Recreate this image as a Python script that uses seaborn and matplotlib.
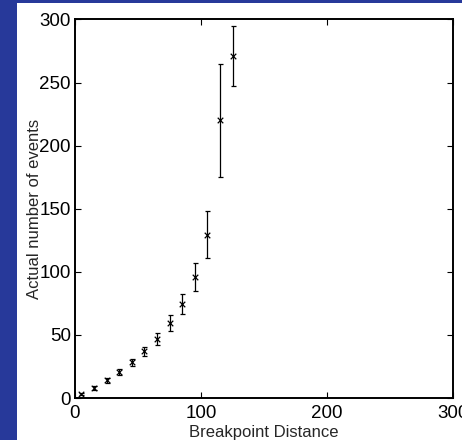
import matplotlib
matplotlib.use("Agg")
import matplotlib.pyplot as plt
import seaborn as sns
import pandas as pd
from matplotlib.patches import Rectangle

distance = [5, 15, 25, 35, 45, 55, 65, 75, 85, 95, 105, 115, 125]
events = [3, 8.2, 14.2, 20.7, 28.3, 37, 46.7, 59.4, 74.8, 95.8, 129.5, 220, 271]
err = [1.0, 1.7, 2.0, 2.5, 2.7, 3.8, 5.0, 6.2, 7.9, 11.0, 18.5, 45.0, 23.5]
xticks = [0, 100, 200, 300]
yticks = [0, 50, 100, 150, 200, 250, 300]

df = pd.DataFrame({"distance": distance, "events": events, "err": err})

sns.set_style("white")
plt.rcParams["font.family"] = ["Liberation Sans", "DejaVu Sans"]

fig = plt.figure(figsize=(4.62, 4.40), dpi=100)
fig.patch.set_facecolor("#27399a")
fig.patches.append(Rectangle((17 / 462, 0), 1 - 17 / 462, 1 - 3 / 440,
                             transform=fig.transFigure, facecolor="white",
                             edgecolor="none", zorder=-5))

ax = fig.add_axes([75 / 462, 1 - 398 / 440, (453 - 75) / 462, (398 - 19.5) / 440])
ax.set_zorder(1)
ax.set_facecolor("white")

ax.errorbar(df["distance"], df["events"], yerr=df["err"], fmt="none",
            ecolor="black", elinewidth=0.9, capsize=1.8, capthick=0.9, zorder=2)
sns.scatterplot(data=df, x="distance", y="events", marker="x", color="black",
                s=16, linewidth=0.9, ax=ax, zorder=3, legend=False)

ax.set_xlim(0, 300)
ax.set_ylim(0, 300)
ax.set_xticks(xticks)
ax.set_yticks(yticks)
ax.set_xticklabels([str(t) for t in xticks])
ax.set_yticklabels([str(t) for t in yticks])
ax.tick_params(direction="in", length=4, width=0.8, top=True, right=True,
               bottom=True, left=True, labelsize=13.5, colors="black")
ax.tick_params(axis="x", pad=5)
ax.tick_params(axis="y", pad=3)
for s in ax.spines.values():
    s.set_visible(True)
    s.set_color("black")
    s.set_linewidth(1.4)

ax.set_xlabel("Breakpoint Distance", fontsize=12, labelpad=2)
ax.set_ylabel("Actual number of events", fontsize=12, labelpad=-2)

fig.savefig("out.png", dpi=100, facecolor=fig.get_facecolor())
